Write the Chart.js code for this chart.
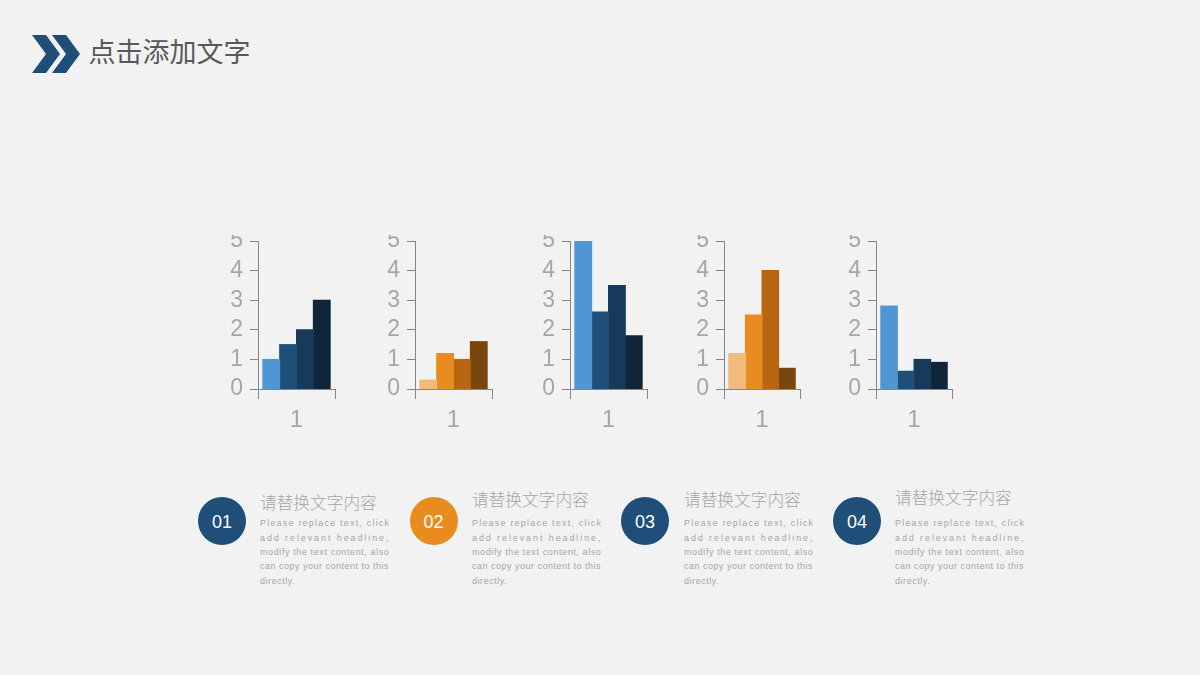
<!DOCTYPE html>
<html><head><meta charset="utf-8">
<script src="https://cdn.jsdelivr.net/npm/chart.js@4/dist/chart.umd.min.js"></script>
<style>
html,body{margin:0;padding:0;background:#f2f2f2;width:1200px;height:675px;overflow:hidden;position:relative;font-family:"Liberation Sans",Arial,sans-serif}
canvas{position:absolute}
.abs{position:absolute;white-space:nowrap}
.wrap{position:absolute}
#title{left:88.5px;top:32px;font:27px/38px "Noto Sans CJK SC";color:#595959}
.c{width:48px;height:48px;border-radius:50%;color:#fff;font:18px/50px "Liberation Sans";text-align:center}
.h{font:300 16.7px/22px "Noto Sans CJK SC";color:#a6a6a6}
.t{font:9px/14px "Liberation Sans";color:#a6a6a6}
</style></head><body>
<svg style="position:absolute;left:0;top:0" width="100" height="80">
<polygon points="32,35 46,35 60,54 46,73 32,73 46,54" fill="#1f4e79"/>
<polygon points="52,35 66,35 80,54 66,73 52,73 66,54" fill="#1f4e79"/>
</svg>
<div id="title" class="abs">点击添加文字</div>
<script>
const categories = ['1'];
const yTicks = [0, 1, 2, 3, 4, 5];
const seriesA = [1, 0.3, 5, 1.2, 2.8];
const seriesB = [1.5, 1.2, 2.6, 2.5, 0.6];
const seriesC = [2, 1, 3.5, 4, 1];
const seriesD = [3, 1.6, 1.8, 0.7, 0.9];
const blues = ['#5096d2', '#1f4e79', '#183a5a', '#102539'];
const oranges = ['#f0bb7c', '#e98c1f', '#b8660f', '#79470d'];
const palettes = [blues, oranges, blues, oranges, blues];
const axisLeft = [258, 415, 570, 724, 876];
const axisRight = [335, 492, 647, 800, 952];
const badgeLabels = ['01', '02', '03', '04'];
const badgeColors = ['#1f4e79', '#e98c1f', '#1f4e79', '#1f4e79'];
const badgeX = [198, 409.5, 621, 833];
const headX = [260, 472, 684, 895];
const headY = [491, 488, 488, 486];
const heading = '请替换文字内容';
const bodyLines = ['Please replace text, click', 'add relevant headline,', 'modify the text content, also', 'can copy your content to this', 'directly.'];
const lineSpacing = ['1.2px', '1.9px', '0.6px', '0.5px', '0.55px'];
const lineY = [516, 531, 545, 559, 574];

const TOP = 235, AXIS_TOP = 241, AXIS_BOTTOM = 389, BOTTOM = 440, LEFT_SPACE = 40, RIGHT_SPACE = 6;
axisLeft.forEach((x0, i) => {
  const w = axisRight[i] - x0;
  const wrap = document.createElement('div');
  wrap.className = 'wrap';
  wrap.style.cssText = `left:${x0 - LEFT_SPACE}px;top:${TOP}px;width:${w + LEFT_SPACE + RIGHT_SPACE}px;height:${BOTTOM - TOP}px`;
  const cv = document.createElement('canvas');
  wrap.appendChild(cv);
  document.body.appendChild(wrap);
  const vals = [seriesA[i], seriesB[i], seriesC[i], seriesD[i]];
  new Chart(cv, {
    type: 'bar',
    data: { labels: categories, datasets: vals.map((v, k) => ({ label: 'S' + (k + 1), data: [v], backgroundColor: palettes[i][k], borderWidth: 0, inflateAmount: 0.5 })) },
    options: {
      responsive: true, maintainAspectRatio: false, animation: false,
      layout: { padding: { top: AXIS_TOP - TOP, right: RIGHT_SPACE, left: 0, bottom: 0 } },
      plugins: { legend: { display: false }, tooltip: { enabled: false } },
      datasets: { bar: { categoryPercentage: 0.875, barPercentage: 1 } },
      scales: {
        x: {
          afterFit: s => { s.height = BOTTOM - AXIS_BOTTOM; s.paddingLeft = 0; s.paddingRight = 0; },
          grid: { display: true, drawOnChartArea: false, drawTicks: true, tickLength: 10, color: '#868686', lineWidth: 1 },
          border: { display: true, color: '#868686', width: 1 },
          ticks: { color: '#a6a6a6', font: { size: 24, family: 'Liberation Sans' }, padding: 7, maxRotation: 0 }
        },
        y: {
          min: 0, max: 5,
          afterFit: s => { s.width = LEFT_SPACE; s.paddingTop = 0; s.paddingBottom = 0; },
          afterBuildTicks: s => { s.ticks = yTicks.map(v => ({ value: v })); },
          grid: { display: true, drawOnChartArea: false, drawTicks: true, tickLength: 8, color: '#868686', lineWidth: 1 },
          border: { display: true, color: '#868686', width: 1 },
          ticks: { color: '#a6a6a6', font: { size: 23, family: 'Liberation Sans' }, padding: 7, autoSkip: false }
        }
      }
    }
  });
});
badgeLabels.forEach((b, i) => {
  const c = document.createElement('div');
  c.className = 'abs c';
  c.textContent = b;
  c.style.left = badgeX[i] + 'px'; c.style.top = '497px'; c.style.background = badgeColors[i];
  document.body.appendChild(c);
  const h = document.createElement('div');
  h.className = 'abs h';
  h.textContent = heading;
  h.style.left = headX[i] + 'px'; h.style.top = headY[i] + 'px';
  document.body.appendChild(h);
  bodyLines.forEach((l, k) => {
    const t = document.createElement('div');
    t.className = 'abs t';
    t.textContent = l;
    t.style.left = headX[i] + 'px'; t.style.top = lineY[k] + 'px'; t.style.letterSpacing = lineSpacing[k];
    document.body.appendChild(t);
  });
});
</script>
</body></html>
